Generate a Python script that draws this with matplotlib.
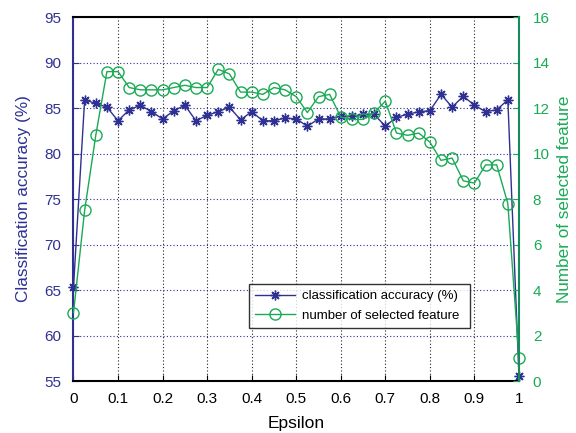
import matplotlib
matplotlib.use("Agg")
import matplotlib.pyplot as plt

plt.rcParams['font.family'] = ['Liberation Sans', 'DejaVu Sans']

# epsilon values on the x axis
epsilon = [i / 40 for i in range(41)]

accuracy = [65.3, 85.9, 85.5, 85.1, 83.6, 84.8, 85.3, 84.6, 83.8, 84.7,
            85.3, 83.6, 84.2, 84.6, 85.1, 83.7, 84.6, 83.6, 83.6, 83.9,
            83.8, 83.0, 83.8, 83.8, 84.1, 84.1, 84.3, 84.3, 83.0, 84.0,
            84.3, 84.6, 84.7, 86.5, 85.1, 86.3, 85.3, 84.6, 84.8, 85.9,
            55.5]

n_features = [3.0, 7.5, 10.8, 13.6, 13.6, 12.9, 12.8, 12.8, 12.8, 12.9,
              13.0, 12.9, 12.9, 13.7, 13.5, 12.7, 12.7, 12.6, 12.9, 12.8,
              12.5, 11.8, 12.5, 12.6, 11.6, 11.5, 11.5, 11.8, 12.3, 10.9,
              10.8, 10.9, 10.5, 9.7, 9.8, 8.8, 8.7, 9.5, 9.5, 7.8,
              1.0]

x_ticks = [0, 0.1, 0.2, 0.3, 0.4, 0.5, 0.6, 0.7, 0.8, 0.9, 1]
x_ticklabels = ['0', '0.1', '0.2', '0.3', '0.4', '0.5', '0.6', '0.7', '0.8', '0.9', '1']
left_ticks = [55, 60, 65, 70, 75, 80, 85, 90, 95]
right_ticks = [0, 2, 4, 6, 8, 10, 12, 14, 16]

blue = '#2e3192'
green = '#1aaa55'
dark_green = '#178a5e'

fig = plt.figure(figsize=(5.76, 4.33), dpi=100)
ax1 = fig.add_axes([0.1276, 0.120, 0.7734, 0.8407])
ax2 = ax1.twinx()

# matlab style asterisk marker
l1, = ax1.plot(epsilon, accuracy, color=blue, marker=(8, 2, 0), markersize=7,
               markeredgewidth=1, linewidth=1, clip_on=False,
               label='classification accuracy (%)')
l2, = ax2.plot(epsilon, n_features, color=green, marker='o', markersize=8,
               markerfacecolor='none', linewidth=1, clip_on=False,
               label='number of selected feature')

ax1.set_xlim(0, 1)
ax1.set_ylim(55, 95)
ax2.set_ylim(0, 16)
ax1.set_xticks(x_ticks)
ax1.set_xticklabels(x_ticklabels)
ax1.set_yticks(left_ticks)
ax2.set_yticks(right_ticks)

# grid: vertical black dotted, horizontal in the left axis colour
ax1.xaxis.grid(True, linestyle=(0, (1, 2)), color='#222222', linewidth=0.8)
ax1.yaxis.grid(True, linestyle=(0, (1, 2)), color=blue, linewidth=0.8)

ax1.tick_params(axis='x', direction='in', colors='black', length=4, width=0.8,
                labelsize=11, pad=8)
ax1.tick_params(axis='y', direction='in', colors=blue, labelsize=11, length=4, pad=9)
ax2.tick_params(axis='y', direction='in', colors=green, labelsize=11, length=4, pad=10)

for sp in ['top', 'bottom']:
    ax1.spines[sp].set_color('black')
    ax1.spines[sp].set_linewidth(1.5)
    ax2.spines[sp].set_visible(False)
ax1.spines['left'].set_color(blue)
ax1.spines['left'].set_linewidth(1.5)
ax2.spines['left'].set_visible(False)
ax1.spines['right'].set_visible(False)
ax2.spines['right'].set_color(dark_green)
ax2.spines['right'].set_linewidth(1.5)

ax1.set_xlabel('Epsilon', fontsize=12.5, labelpad=7)
ax1.set_ylabel('Classification accuracy (%)', fontsize=12.3, color=blue, labelpad=9)
ax2.set_ylabel('Number of selected feature', fontsize=12.3, color=green, labelpad=5)

leg = ax2.legend(handles=[l1, l2], loc='lower left',
                 bbox_to_anchor=(0.394, 0.146, 0.496, 0.123), mode='expand',
                 fontsize=9.5, frameon=True, fancybox=False, borderaxespad=0,
                 handlelength=3.0, handletextpad=0.6, borderpad=0.45,
                 labelspacing=0.55)
leg.get_frame().set_edgecolor('black')
leg.get_frame().set_linewidth(1)

fig.savefig('out.png', dpi=100)
